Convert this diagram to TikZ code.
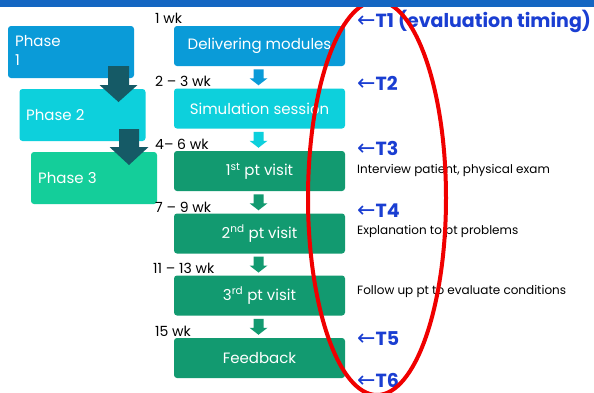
\documentclass[tikz,border=0pt]{standalone}
\usepackage{fontspec}
\setmainfont{Poppins}
\newfontfamily\symfont{DejaVu Sans}
\usetikzlibrary{calc}

\definecolor{barblue}{HTML}{1466C2}
\definecolor{phaseone}{HTML}{0A9BD8}
\definecolor{phasetwo}{HTML}{0DD0DC}
\definecolor{phasethree}{HTML}{14CE9A}
\definecolor{visitgreen}{HTML}{129A70}
\definecolor{bigarrow}{HTML}{155A66}
\definecolor{timeblue}{HTML}{1A3ED2}
\definecolor{ringred}{HTML}{F00000}

% block arrow: #1 top centre, #2 shaft width, #3 shaft height, #4 head width, #5 head height, #6 colour
\newcommand{\blockarrow}[6]{%
  \fill[#6] ($#1+(-#2/2,0)$) -- ++(#2,0) -- ++(0,#3) -- ++(#4/2-#2/2,0)
    -- ++(-#4/2,#5) -- ++(-#4/2,-#5) -- ++(#4/2-#2/2,0) -- cycle;}
% left arrow in front of each timing mark
\newcommand{\backarrow}{{\symfont\mdseries\fontsize{22}{22}\selectfont ←}}

\begin{document}
\begin{tikzpicture}[x=1pt,y=-1pt,
  phasebox/.style={rounded corners=3pt, minimum width=126pt, minimum height=52pt,
    inner sep=0pt},
  phasetext/.style={inner sep=0pt, text=white, font=\fontsize{15}{19}\selectfont, align=left},
  stagebox/.style={rounded corners=3pt, minimum width=171pt, minimum height=40pt,
    text=white, font=\fontsize{15}{18}\selectfont, inner sep=0pt},
  weeklabel/.style={anchor=west, inner sep=0pt, font=\fontsize{14}{16}\selectfont},
  timelabel/.style={anchor=west, inner sep=0pt, text=timeblue, font=\fontsize{19}{22}\selectfont\bfseries},
  notelabel/.style={anchor=west, inner sep=0pt, font=\fontsize{12}{14}\selectfont}]

\useasboundingbox (0,0) rectangle (594,392);
\fill[white] (0,0) rectangle (594,392);

% phases on the left
\node[phasebox, fill=phaseone] (p1) at (71,52) {};
\node[phasetext, anchor=north west] (p1t) at (15,35) {Phase\\1};
\node[phasebox, fill=phasetwo] (p2) at (82.5,115) {};
\node[phasetext, anchor=west] (p2t) at (26,115) {Phase 2};
\node[phasebox, fill=phasethree] (p3) at (94,178) {};
\node[phasetext, anchor=west] (p3t) at (38,178) {Phase 3};

\blockarrow{(118.5,66)}{21}{19}{38}{17}{bigarrow}
\blockarrow{(129,129)}{20}{18}{39}{18}{bigarrow}

% stages in the middle column
\node[stagebox, fill=phaseone] (s1) at (259.5,46) {Delivering modules};
\node[stagebox, fill=phasetwo] (s2) at (259.5,108.5) {Simulation session};
\node[stagebox, fill=visitgreen] (s3) at (259.5,171) {1\textsuperscript{st} pt visit};
\node[stagebox, fill=visitgreen] (s4) at (259.5,233.5) {2\textsuperscript{nd} pt visit};
\node[stagebox, fill=visitgreen] (s5) at (259.5,295.5) {3\textsuperscript{rd} pt visit};
\node[stagebox, fill=visitgreen] (s6) at (259.5,358) {Feedback};

\foreach \a/\b/\c in {s1/s2/phaseone, s2/s3/phasetwo, s3/s4/visitgreen, s4/s5/visitgreen, s5/s6/visitgreen}{
  \blockarrow{($($(\a.south)!0.5!(\b.north)$)+(-1,-8)$)}{10}{9}{18}{7}{\c}
}

% week labels
\node[weeklabel] (w1) at (155,18) {1 wk};
\node[weeklabel] (w2) at (155,81) {2 – 3 wk};
\node[weeklabel] (w3) at (155,144) {4– 6 wk};
\node[weeklabel] (w4) at (155,207) {7 – 9 wk};
\node[weeklabel] (w5) at (153,268) {11 – 13 wk};
\node[weeklabel] (w6) at (155,331) {15 wk};

% evaluation timings
\node[timelabel] (t1) at (357,21) {\backarrow T1 (evaluation timing)};
\node[timelabel] (t2) at (357,83) {\backarrow T2};
\node[timelabel] (t3) at (357,148) {\backarrow T3};
\node[notelabel] (n3) at (357,170) {Interview patient, physical exam};
\node[timelabel] (t4) at (357,211) {\backarrow T4};
\node[notelabel] (n4) at (357,231) {Explanation to pt problems};
\node[notelabel] (n5) at (357,291) {Follow up pt to evaluate conditions};
\node[timelabel] (t5) at (357,339) {\backarrow T5};
\node[timelabel] (t6) at (357,380) {\backarrow T6};

% red highlight ring
\draw[ringred, line width=4pt] (377,198) ellipse [x radius=69, y radius=197];

% top band
\fill[barblue] (0,0) rectangle (594,6.5);
\end{tikzpicture}
\end{document}
